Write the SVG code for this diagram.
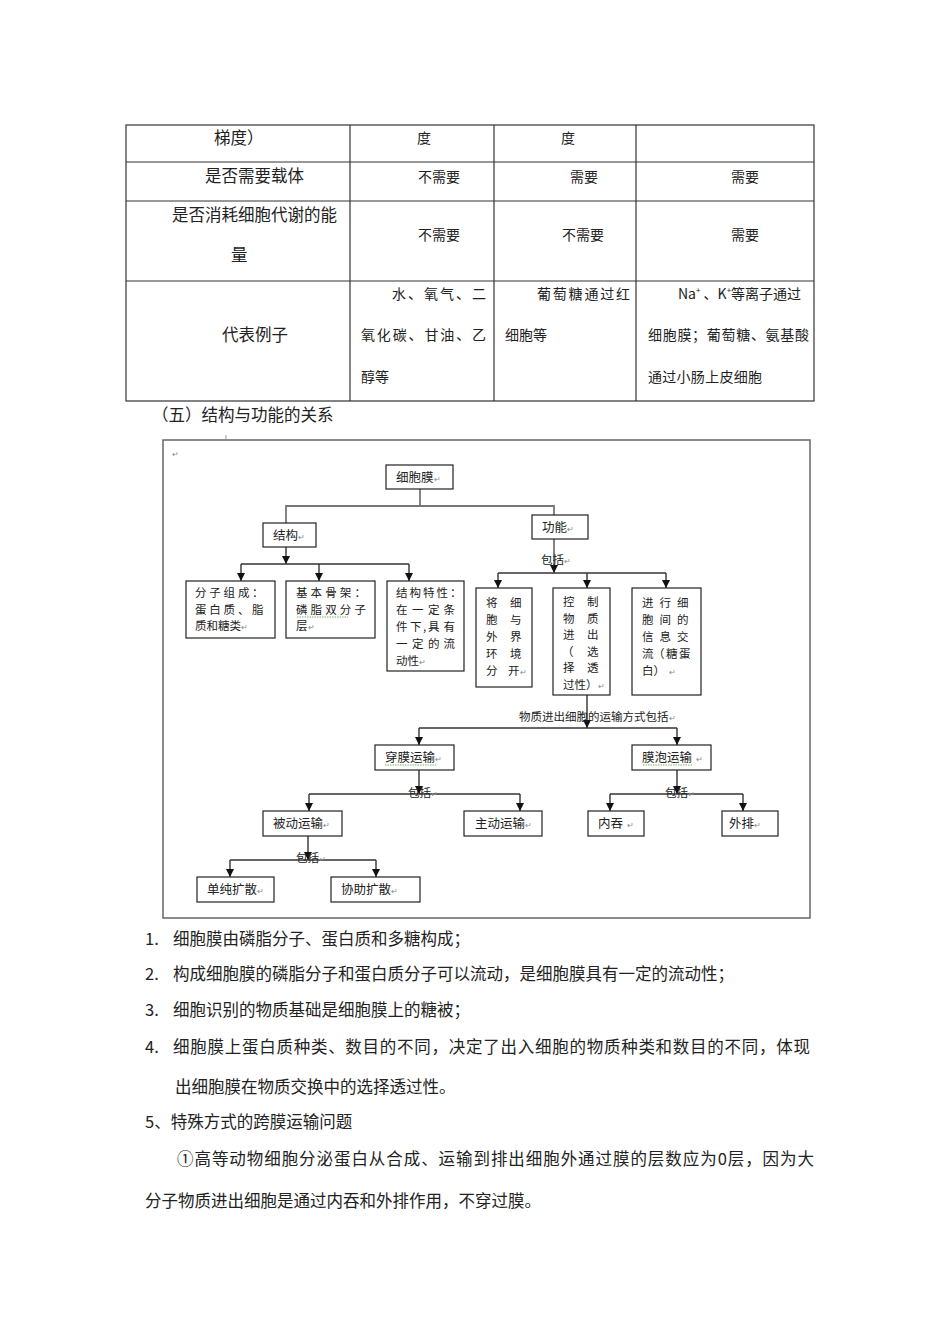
<svg xmlns="http://www.w3.org/2000/svg" width="950" height="1344" viewBox="0 0 950 1344">
<defs>
<style>
.t{font-family:"Noto Sans CJK SC","Liberation Sans",sans-serif;fill:#222}
.tb{font-size:16.5px}
.tc{font-size:14px}
.body{font-size:16.5px}
.d{font-size:12.5px}
.m{font-size:11.5px}
.lab{font-size:11.5px}
.pm{font-size:8px;fill:#888}
.grid{stroke:#333;stroke-width:1.2;fill:none}
.box{fill:#fff;stroke:#222;stroke-width:1.2}
.ln{fill:none;stroke:#333;stroke-width:1.4}
.lg{fill:none;stroke:#777;stroke-width:1.8}
.sq{fill:none;stroke:#7bb36b;stroke-width:1;stroke-dasharray:1.5 1}
</style>
<marker id="arr" viewBox="0 0 8 8" refX="8" refY="4" markerWidth="8" markerHeight="8" markerUnits="userSpaceOnUse" orient="auto">
<path d="M0,0 L8,4 L0,8 z" fill="#111"/>
</marker>
</defs>
<rect width="950" height="1344" fill="#fff"/>

<!-- table -->
<g id="table">
<rect x="126" y="125" width="688" height="276" class="grid"/>
<line x1="126" y1="162" x2="814" y2="162" class="grid"/>
<line x1="126" y1="201" x2="814" y2="201" class="grid"/>
<line x1="126" y1="281" x2="814" y2="281" class="grid"/>
<line x1="350" y1="125" x2="350" y2="401" class="grid"/>
<line x1="494" y1="125" x2="494" y2="401" class="grid"/>
<line x1="636" y1="125" x2="636" y2="401" class="grid"/>
<text class="t tb" x="214" y="144">梯度）</text>
<text class="t tc" x="417" y="143">度</text>
<text class="t tc" x="561" y="143">度</text>
<text class="t tb" x="205" y="182">是否需要载体</text>
<text class="t tc" x="418" y="182">不需要</text>
<text class="t tc" x="570" y="182">需要</text>
<text class="t tc" x="731" y="182">需要</text>
<text class="t tb" x="172" y="221" textLength="165" lengthAdjust="spacing">是否消耗细胞代谢的能</text>
<text class="t tb" x="231" y="261">量</text>
<text class="t tc" x="418" y="240">不需要</text>
<text class="t tc" x="562" y="240">不需要</text>
<text class="t tc" x="731" y="240">需要</text>
<text class="t tb" x="222" y="341">代表例子</text>
<text class="t tc" x="392" y="299" textLength="94" lengthAdjust="spacing">水、氧气、二</text>
<text class="t tc" x="361" y="340" textLength="125" lengthAdjust="spacing">氧化碳、甘油、乙</text>
<text class="t tc" x="361" y="382">醇等</text>
<text class="t tc" x="537" y="299" textLength="93" lengthAdjust="spacing">葡萄糖通过红</text>
<text class="t tc" x="505" y="340">细胞等</text>
<text class="t tc" x="678" y="299">Na<tspan font-size="8" dy="-6">+</tspan><tspan dy="6"> 、K</tspan><tspan font-size="8" dy="-6">+</tspan><tspan dy="6">等离子通过</tspan></text>
<text class="t tc" x="648" y="340" textLength="161" lengthAdjust="spacing">细胞膜；葡萄糖、氨基酸</text>
<text class="t tc" x="648" y="382" textLength="114" lengthAdjust="spacing">通过小肠上皮细胞</text>
</g>

<text class="t body" x="152" y="421">（五）结构与功能的关系</text>

<!-- diagram frame -->
<g id="frame">
<rect x="163" y="440" width="647" height="478" fill="none" stroke="#666" stroke-width="1.5"/>
<line x1="226" y1="435" x2="226" y2="439" stroke="#999" stroke-width="1"/>
<text class="t pm" x="172" y="457">↵</text>
</g>

<!-- connectors -->
<g id="connectors">
<polyline class="lg" points="420,489 420,506"/>
<polyline class="lg" points="286,523 286,506 554,506 554,515"/>
<line class="ln" x1="286" y1="547" x2="286" y2="564" marker-end="url(#arr)"/>
<line class="ln" x1="241" y1="564" x2="409" y2="564"/>
<line class="ln" x1="241" y1="564" x2="241" y2="581" marker-end="url(#arr)"/>
<line class="ln" x1="319" y1="564" x2="319" y2="581" marker-end="url(#arr)"/>
<line class="ln" x1="409" y1="564" x2="409" y2="581" marker-end="url(#arr)"/>
<line class="lg" x1="554" y1="539" x2="554" y2="573" marker-end="url(#arr)"/>
<line class="ln" x1="498" y1="573" x2="666" y2="573"/>
<line class="ln" x1="498" y1="573" x2="498" y2="588" marker-end="url(#arr)"/>
<line class="ln" x1="587" y1="573" x2="587" y2="588" marker-end="url(#arr)"/>
<line class="ln" x1="666" y1="573" x2="666" y2="588" marker-end="url(#arr)"/>
<line class="ln" x1="587" y1="695" x2="587" y2="728" marker-end="url(#arr)"/>
<line class="ln" x1="419" y1="728" x2="677" y2="728"/>
<line class="ln" x1="419" y1="728" x2="419" y2="745" marker-end="url(#arr)"/>
<line class="ln" x1="677" y1="728" x2="677" y2="745" marker-end="url(#arr)"/>
<line class="ln" x1="419" y1="770" x2="419" y2="794" marker-end="url(#arr)"/>
<line class="ln" x1="309" y1="794" x2="520" y2="794"/>
<line class="ln" x1="309" y1="794" x2="309" y2="811" marker-end="url(#arr)"/>
<line class="ln" x1="520" y1="794" x2="520" y2="811" marker-end="url(#arr)"/>
<line class="ln" x1="677" y1="770" x2="677" y2="794" marker-end="url(#arr)"/>
<line class="ln" x1="610" y1="794" x2="743" y2="794"/>
<line class="ln" x1="610" y1="794" x2="610" y2="811" marker-end="url(#arr)"/>
<line class="ln" x1="743" y1="794" x2="743" y2="811" marker-end="url(#arr)"/>
<line class="ln" x1="308" y1="836" x2="308" y2="860" marker-end="url(#arr)"/>
<line class="ln" x1="230" y1="860" x2="376" y2="860"/>
<line class="ln" x1="230" y1="860" x2="230" y2="877" marker-end="url(#arr)"/>
<line class="ln" x1="376" y1="860" x2="376" y2="877" marker-end="url(#arr)"/>
<text class="t lab" x="541" y="564">包括<tspan class="pm">↵</tspan></text>
<text class="t lab" x="519" y="721">物质进出细胞的运输方式包括<tspan class="pm">↵</tspan></text>
<text class="t lab" x="408" y="797">包括<tspan class="pm">↵</tspan></text>
<text class="t lab" x="665" y="797">包括<tspan class="pm">↵</tspan></text>
<text class="t lab" x="296" y="862">包括<tspan class="pm">↵</tspan></text>
</g>

<g id="n-xibaomo">
<rect class="box" x="386" y="465" width="67" height="24"/>
<text class="t d" x="396" y="482">细胞膜<tspan class="pm">↵</tspan></text>
</g>
<g id="n-jiegou">
<rect class="box" x="263" y="523" width="53" height="24"/>
<text class="t d" x="273" y="540">结构<tspan class="pm">↵</tspan></text>
</g>
<g id="n-gongneng">
<rect class="box" x="532" y="515" width="56" height="24"/>
<text class="t d" x="542" y="532">功能<tspan class="pm">↵</tspan></text>
</g>
<g id="n-fenzi">
<rect class="box" x="186" y="581" width="89" height="57"/>
<text class="t m"><tspan x="195 209.3 223.6 238 252" y="597">分子组成：</tspan><tspan x="195 209.3 223.6 238 252" y="613.5">蛋白质、脂</tspan><tspan x="195" y="630">质和糖类</tspan><tspan class="pm">↵</tspan></text>
</g>
<g id="n-gujia">
<rect class="box" x="286" y="581" width="89" height="57"/>
<line class="sq" x1="297" y1="617" x2="348" y2="617"/>
<text class="t m"><tspan x="296 310.6 325.2 339.8 354.4" y="597">基本骨架：</tspan><tspan x="296 310.6 325.2 339.8 354.4" y="613.5">磷脂双分子</tspan><tspan x="296" y="630">层</tspan><tspan class="pm">↵</tspan></text>
</g>
<g id="n-texing">
<rect class="box" x="387" y="581" width="77" height="90"/>
<text class="t m"><tspan x="396 409.5 423 436.5 450" y="597">结构特性：</tspan><tspan x="396 412 428 443.5" y="614">在一定条</tspan><tspan x="396 410 423 428 443.5" y="631">件下,具有</tspan><tspan x="396 412 428 443.5" y="648">一定的流</tspan><tspan x="396" y="665">动性</tspan><tspan class="pm">↵</tspan></text>
</g>
<g id="n-fenkai">
<rect class="box" x="476" y="588" width="56" height="99"/>
<text class="t m"><tspan x="486 510" y="607">将细</tspan><tspan x="486 510" y="624">胞与</tspan><tspan x="486 510" y="641">外界</tspan><tspan x="486 510" y="658">环境</tspan><tspan x="486 508" y="675">分开</tspan><tspan class="pm">↵</tspan></text>
</g>
<g id="n-kongzhi">
<rect class="box" x="553" y="588" width="57" height="107"/>
<text class="t m"><tspan x="563 587" y="606">控制</tspan><tspan x="563 587" y="622.5">物质</tspan><tspan x="563 587" y="639">进出</tspan><tspan x="562 587" y="655.5">（选</tspan><tspan x="563 587" y="672">择透</tspan><tspan x="563" y="688.5">过性）</tspan><tspan class="pm">↵</tspan></text>
</g>
<g id="n-xinxi">
<rect class="box" x="632" y="588" width="69" height="107"/>
<text class="t m"><tspan x="642 659.5 677" y="607">进行细</tspan><tspan x="642 659.5 677" y="624">胞间的</tspan><tspan x="642 659.5 677" y="641">信息交</tspan><tspan x="642 653 666 679" y="658">流（糖蛋</tspan><tspan x="642" y="675">白）</tspan><tspan class="pm" dx="4">↵</tspan></text>
</g>
<g id="n-chuanmo">
<rect class="box" x="375" y="745" width="79" height="25"/>
<text class="t d" x="385" y="762">穿膜运输<tspan class="pm">↵</tspan></text>
<line class="sq" x1="385" y1="765" x2="436" y2="765"/>
</g>
<g id="n-mopao">
<rect class="box" x="632" y="745" width="79" height="25"/>
<text class="t d" x="642" y="762">膜泡运输<tspan class="pm" dx="4">↵</tspan></text>
<line class="sq" x1="643" y1="765" x2="693" y2="765"/>
</g>
<g id="n-beidong">
<rect class="box" x="263" y="811" width="79" height="25"/>
<text class="t d" x="273" y="828">被动运输<tspan class="pm">↵</tspan></text>
</g>
<g id="n-zhudong">
<rect class="box" x="464" y="811" width="78" height="25"/>
<text class="t d" x="475" y="828">主动运输<tspan class="pm">↵</tspan></text>
</g>
<g id="n-neitun">
<rect class="box" x="588" y="811" width="56" height="25"/>
<text class="t d" x="598" y="828">内吞<tspan class="pm" dx="4">↵</tspan></text>
</g>
<g id="n-waipai">
<rect class="box" x="722" y="811" width="56" height="25"/>
<text class="t d" x="729" y="828">外排<tspan class="pm">↵</tspan></text>
</g>
<g id="n-danchun">
<rect class="box" x="197" y="877" width="77" height="25"/>
<text class="t d" x="207" y="894">单纯扩散<tspan class="pm">↵</tspan></text>
</g>
<g id="n-xiezhu">
<rect class="box" x="331" y="877" width="89" height="25"/>
<text class="t d" x="341" y="894">协助扩散<tspan class="pm">↵</tspan></text>
</g>

<!-- body text -->
<g id="body">
<text class="t body" x="145" y="944.5">1.</text>
<text class="t body" x="173" y="944.5">细胞膜由磷脂分子、蛋白质和多糖构成；</text>
<text class="t body" x="145" y="980">2.</text>
<text class="t body" x="173" y="980">构成细胞膜的磷脂分子和蛋白质分子可以流动，是细胞膜具有一定的流动性；</text>
<text class="t body" x="145" y="1015.5">3.</text>
<text class="t body" x="173" y="1015.5">细胞识别的物质基础是细胞膜上的糖被；</text>
<text class="t body" x="145" y="1052.5">4.</text>
<text class="t body" x="173" y="1052.5" textLength="637" lengthAdjust="spacing">细胞膜上蛋白质种类、数目的不同，决定了出入细胞的物质种类和数目的不同，体现</text>
<text class="t body" x="175" y="1092.5">出细胞膜在物质交换中的选择透过性。</text>
<text class="t body" x="145" y="1128">5、特殊方式的跨膜运输问题</text>
<text class="t body" x="177" y="1164.5" textLength="637" lengthAdjust="spacing">①高等动物细胞分泌蛋白从合成、运输到排出细胞外通过膜的层数应为0层，因为大</text>
<text class="t body" x="145" y="1207">分子物质进出细胞是通过内吞和外排作用，不穿过膜。</text>
</g>
</svg>
